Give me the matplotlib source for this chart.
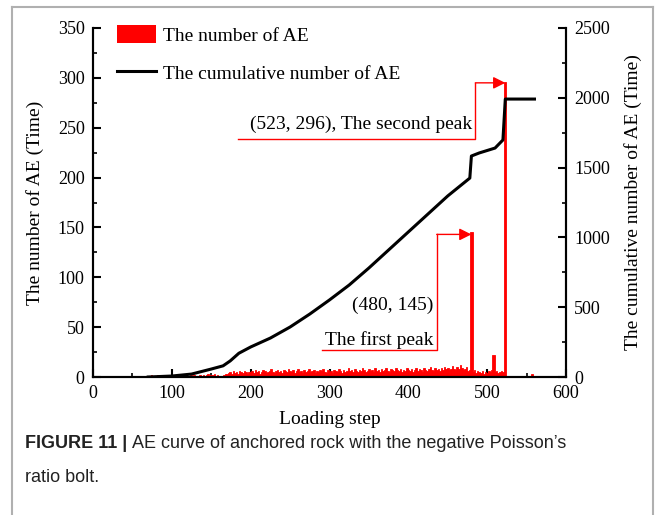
import numpy as np
import matplotlib
matplotlib.use("Agg")
import matplotlib.pyplot as plt
from matplotlib.ticker import MultipleLocator
from matplotlib.lines import Line2D
from matplotlib.patches import Patch

# ---------------- data ----------------
ae_start_step = 70
ae_step_width = 2
ae_counts = [
    1, 0, 2, 1, 0, 1, 2, 0, 1, 1, 0, 2, 1, 0, 1,
    1, 2, 1, 1, 2, 1, 0, 2, 1, 2, 1, 1, 2, 1, 2, 1, 0, 1, 2, 1,
    2, 1, 2, 3, 1, 2, 2, 3, 1, 2, 0, 0, 1, 2, 3,
    3, 4, 5, 3, 6, 4, 5, 3, 6, 5, 4, 6, 5, 3, 5,
    5, 6, 4, 7, 5, 6, 3, 5, 7, 6, 4, 5, 6, 8, 5, 4, 6, 7, 5, 6, 4, 7, 6, 5, 8,
    6, 5, 7, 4, 6, 8, 5, 6, 4, 7, 5, 6, 8, 5, 6, 7, 4, 6, 5, 7, 6, 8, 5, 4, 7,
    5, 6, 4, 7, 6, 5, 8, 6, 4, 7, 5, 6, 9, 6, 7, 5, 8, 6, 5, 7, 6, 9, 7, 5, 6,
    8, 6, 7, 5, 9, 6, 7, 5, 8, 6, 7, 9, 6, 5, 8, 7, 6, 9, 7, 6, 8, 5, 7, 6, 9,
    7, 6, 8, 5, 7, 9, 6, 8, 7, 5, 9, 7, 6, 8, 10, 7, 6, 9, 7, 8, 6, 9, 7, 10, 8,
    9, 7, 8, 11, 8, 7, 10, 8, 12, 9, 7, 8, 10, 6, 7,
    6, 5, 7, 4, 6, 5, 4, 6, 3, 5, 4, 6, 5, 7, 4, 5, 6, 4, 5, 6, 5,
]
spike_steps = [480, 508, 523, 557]
spike_counts = [145, 22, 296, 3]

cum_steps = [70, 100, 125, 150, 165, 174, 185, 200, 225, 250, 275, 300, 325, 350,
             375, 400, 425, 450, 478, 480, 490, 510, 520, 523, 560]
cum_values = [0, 7, 21, 57, 80, 115, 170, 215, 279, 358, 451, 552, 659, 781,
              910, 1039, 1168, 1297, 1425, 1583, 1605, 1640, 1698, 1991, 1991]

peak1 = (480, 145)
peak2 = (523, 296)

# ---------------- figure ----------------
serif = ["Liberation Serif", "DejaVu Serif"]
plt.rcParams["font.family"] = serif
plt.rcParams["font.size"] = 13

W, H = 664, 515
fig = plt.figure(figsize=(W / 100, H / 100), dpi=100)
ax = fig.add_axes([93 / W, 1 - 377 / H, (566 - 93) / W, (377 - 28) / H])
ax2 = ax.twinx()

red = "#ff0000"
ae_steps = ae_start_step + ae_step_width * np.arange(len(ae_counts))
ax.bar(ae_steps, ae_counts, width=ae_step_width, color=red, edgecolor=red,
       linewidth=0.6, zorder=2)
ax.bar(spike_steps, spike_counts, width=3.0, color=red, edgecolor=red,
       linewidth=0.6, zorder=2)

ax2.plot(cum_steps, cum_values, color="black", lw=2.2, zorder=3)

ax.set_xlim(0, 600)
ax.set_ylim(0, 350)
ax2.set_ylim(0, 2500)
ax.xaxis.set_major_locator(MultipleLocator(100))
ax.xaxis.set_minor_locator(MultipleLocator(50))
ax.yaxis.set_major_locator(MultipleLocator(50))
ax.yaxis.set_minor_locator(MultipleLocator(25))
ax2.yaxis.set_major_locator(MultipleLocator(500))
ax2.yaxis.set_minor_locator(MultipleLocator(250))

for a in (ax, ax2):
    a.spines["top"].set_visible(False)
    for s in a.spines.values():
        s.set_linewidth(1.5)
ax.tick_params(which="major", direction="in", length=6, width=1.5, labelsize=13, pad=6)
ax.tick_params(which="minor", direction="in", length=3, width=1.2)
ax2.tick_params(which="major", direction="in", length=6, width=1.5, labelsize=13, pad=6)
ax2.tick_params(which="minor", direction="in", length=3, width=1.2)

ax.set_xlabel("Loading step", fontsize=14, labelpad=6)
ax.set_ylabel("The number of AE (Time)", fontsize=14, labelpad=10)
ax2.set_ylabel("The cumulative number of AE (Time)", fontsize=14, labelpad=10)

handles = [Patch(facecolor=red, edgecolor="none"),
           Line2D([0], [0], color="black", lw=2.2)]
ax.legend(handles, ["The number of AE", "The cumulative number of AE"],
          loc="upper left", bbox_to_anchor=(0.035, 1.03), frameon=False,
          fontsize=14, handlelength=2.0, handleheight=1.0, labelspacing=0.95,
          handletextpad=0.35, borderaxespad=0.0)

# annotations
ax.plot([291, 436, 436], [27, 27, 143], color=red, lw=1.0, zorder=4)
ax.annotate("", xy=(peak1[0], 143), xytext=(436, 143),
            arrowprops=dict(arrowstyle="-|>", color=red, lw=1.0,
                            mutation_scale=18, shrinkA=0, shrinkB=0), zorder=4)
ax.text(432, 72, "(480, 145)", ha="right", va="center", fontsize=14)
ax.text(432, 37, "The first peak", ha="right", va="center", fontsize=14)

ax.plot([184, 485, 485], [238.5, 238.5, 295], color=red, lw=1.0, zorder=4)
ax.annotate("", xy=(peak2[0], 295), xytext=(485, 295),
            arrowprops=dict(arrowstyle="-|>", color=red, lw=1.0,
                            mutation_scale=18, shrinkA=0, shrinkB=0), zorder=4)
ax.text(481, 253, "(523, 296), The second peak", ha="right", va="center", fontsize=14)

# frame around the figure panel
frame_color = "#b0b0b0"
fig.add_artist(Line2D([12 / W, 12 / W], [0, 1 - 7 / H], color=frame_color, lw=1.5,
                      transform=fig.transFigure))
fig.add_artist(Line2D([653 / W, 653 / W], [0, 1 - 7 / H], color=frame_color, lw=1.5,
                      transform=fig.transFigure))
fig.add_artist(Line2D([12 / W, 653 / W], [1 - 7 / H, 1 - 7 / H], color=frame_color, lw=1.5,
                      transform=fig.transFigure))

# caption
sans = ["Liberation Sans", "DejaVu Sans"]
fig.canvas.draw()
renderer = fig.canvas.get_renderer()
t1 = fig.text(25 / W, 1 - 443 / H, "FIGURE 11 | ", family=sans, weight="bold",
              fontsize=13, va="center", ha="left", color="#222222")
bb = t1.get_window_extent(renderer=renderer)
fig.text(bb.x1 / W, 1 - 443 / H, "AE curve of anchored rock with the negative Poisson\u2019s",
         family=sans, fontsize=13, va="center", ha="left", color="#222222")
fig.text(25 / W, 1 - 478 / H, "ratio bolt.", family=sans, fontsize=13,
         va="center", ha="left", color="#222222")

fig.savefig("out.png", dpi=100, facecolor="white")
